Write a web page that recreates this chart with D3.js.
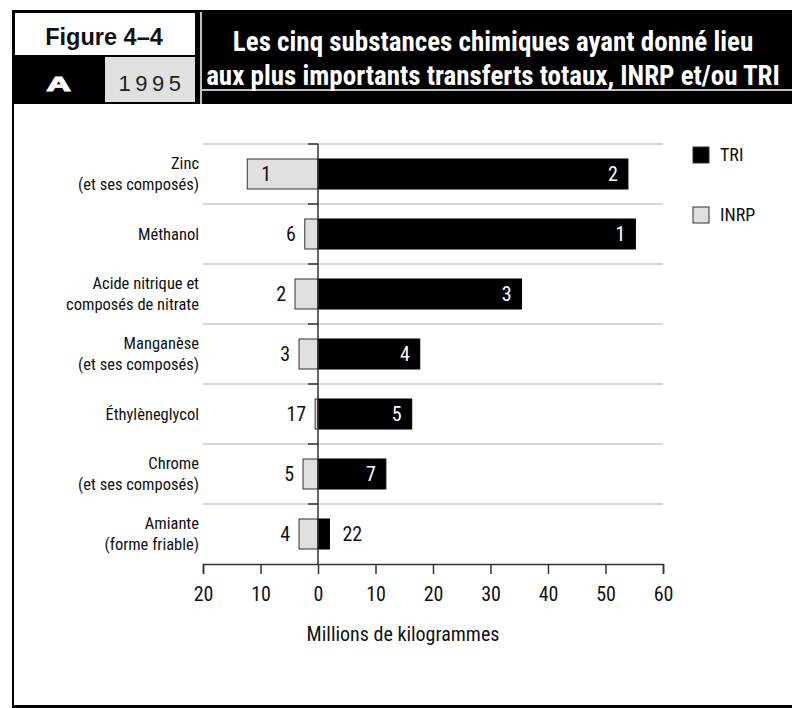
<!DOCTYPE html>
<html><head><meta charset="utf-8">
<script src="https://cdn.jsdelivr.net/npm/d3@7"></script>
<style>
html,body{margin:0;padding:0;background:#fff;}
svg{display:block;}
</style></head>
<body>
<svg id="chart" width="792" height="708"></svg>
<script>
const categories = [
  ["Zinc", "(et ses composés)"],
  ["Méthanol"],
  ["Acide nitrique et", "composés de nitrate"],
  ["Manganèse", "(et ses composés)"],
  ["Éthylèneglycol"],
  ["Chrome", "(et ses composés)"],
  ["Amiante", "(forme friable)"]
];
const triValues  = [53.9, 55.2, 35.4, 17.7, 16.3, 11.8, 2.0];
const inrpValues = [12.3, 2.3, 4.0, 3.3, 0.5, 2.6, 3.3];
const triRanks   = [2, 1, 3, 4, 5, 7, 22];
const inrpRanks  = [1, 6, 2, 3, 17, 5, 4];
const tickValues = [-20, -10, 0, 10, 20, 30, 40, 50, 60];
const seriesNames = ["TRI", "INRP"];

const COND = "'Liberation Sans Narrow','Roboto Condensed','Arial Narrow','DejaVu Sans Condensed',sans-serif";
const SANS = "'Liberation Sans',Arial,Helvetica,sans-serif";
const GREY = "#e0e0e0";

const svg = d3.select("#chart");

// ---- frame & header ----
svg.append("rect").attr("x",12).attr("y",10).attr("width",780).attr("height",94).attr("fill","#000");
svg.append("line").attr("x1",13).attr("x2",13).attr("y1",10).attr("y2",707).attr("stroke","#000").attr("stroke-width",2);
svg.append("line").attr("x1",12).attr("x2",792).attr("y1",706.5).attr("y2",706.5).attr("stroke","#000").attr("stroke-width",3);
svg.append("rect").attr("x",15).attr("y",13).attr("width",180).attr("height",42).attr("fill","#fff");
svg.append("rect").attr("x",105).attr("y",57).attr("width",90).attr("height",45).attr("fill",GREY);
svg.append("line").attr("x1",201).attr("x2",201).attr("y1",12).attr("y2",104).attr("stroke","#fff").attr("stroke-width",1.5);
svg.append("line").attr("x1",202).attr("x2",792).attr("y1",90).attr("y2",90).attr("stroke","#fff").attr("stroke-width",1.5);

svg.append("text").attr("x",104).attr("y",45).attr("text-anchor","middle")
  .attr("font-family",SANS).attr("font-weight","bold").attr("font-size",23.5).attr("fill","#111").text("Figure 4–4");
svg.append("text").attr("transform","translate(58.5,91) scale(1.6,1)").attr("text-anchor","middle")
  .attr("font-family",SANS).attr("font-weight","900").attr("font-size",21).attr("fill","#fff")
  .attr("stroke","#fff").attr("stroke-width",1.2).text("A");
svg.append("text").attr("x",152).attr("y",91).attr("text-anchor","middle")
  .attr("font-family",SANS).attr("font-size",22).attr("letter-spacing","4.5px").attr("fill","#222").text("1995");

const titleLines = ["Les cinq substances chimiques ayant donné lieu", "aux plus importants transferts totaux, INRP et/ou TRI"];
svg.append("text").attr("text-anchor","middle").attr("font-family",COND).attr("font-weight","bold")
  .attr("font-size",27).attr("fill","#fff")
  .selectAll("tspan").data(titleLines).join("tspan")
  .attr("x",493).attr("y",(d,i)=>51+i*34).text(d=>d);

// ---- scales ----
const x = d3.scaleLinear().domain([-20,60]).range([203,663]);
const y = d3.scaleBand().domain(d3.range(categories.length)).range([144,564]).paddingInner(0.5).paddingOuter(0.25);
const step = y.step();

// separators
svg.append("g").selectAll("line").data(d3.range(categories.length)).join("line")
  .attr("x1",x(-20)).attr("x2",x(60))
  .attr("y1",i=>y(i)-step*0.25).attr("y2",i=>y(i)-step*0.25)
  .attr("stroke","#c8c8c8").attr("stroke-width",1.5);

// small ticks on zero line
svg.append("g").selectAll("line").data(d3.range(categories.length)).join("line")
  .attr("x1",x(0)-10).attr("x2",x(0))
  .attr("y1",i=>y(i)-step*0.25).attr("y2",i=>y(i)-step*0.25)
  .attr("stroke","#333").attr("stroke-width",1.5);

// bars
const rows = categories.map((c,i)=>({i, c, tri:triValues[i], inrp:inrpValues[i], tr:triRanks[i], ir:inrpRanks[i]}));
svg.append("g").selectAll("rect").data(rows).join("rect")
  .attr("x",d=>x(-d.inrp)).attr("y",d=>y(d.i)).attr("width",d=>x(0)-x(-d.inrp)).attr("height",y.bandwidth())
  .attr("fill",GREY).attr("stroke","#333").attr("stroke-width",1);
svg.append("g").selectAll("rect").data(rows).join("rect")
  .attr("x",x(0)).attr("y",d=>y(d.i)).attr("width",d=>x(d.tri)-x(0)).attr("height",y.bandwidth())
  .attr("fill","#000").attr("stroke","#000").attr("stroke-width",1);

// zero line
svg.append("line").attr("x1",x(0)).attr("x2",x(0)).attr("y1",144).attr("y2",564).attr("stroke","#333").attr("stroke-width",1.5);

// value labels
const lbl = svg.append("g").attr("font-family",COND).attr("font-size",20);
rows.forEach(d=>{
  const cy = y(d.i)+y.bandwidth()/2;
  const tw = x(d.tri)-x(0);
  if (tw > 30) {
    lbl.append("text").attr("x",x(d.tri)-10).attr("y",cy).attr("dy","0.35em").attr("text-anchor","end").attr("fill","#fff").text(d.tr);
  } else {
    lbl.append("text").attr("x",x(d.tri)+13).attr("y",cy).attr("dy","0.35em").attr("text-anchor","start").attr("fill","#111").text(d.tr);
  }
  const iw = x(0)-x(-d.inrp);
  if (iw > 40) {
    lbl.append("text").attr("x",x(-d.inrp)+14).attr("y",cy).attr("dy","0.35em").attr("text-anchor","start").attr("fill","#111").text(d.ir);
  } else {
    lbl.append("text").attr("x",x(-d.inrp)-9).attr("y",cy).attr("dy","0.35em").attr("text-anchor","end").attr("fill","#111").text(d.ir);
  }
});

// category labels
const cat = svg.append("g").attr("font-family",COND).attr("font-size",16.5).attr("fill","#111").attr("text-anchor","end");
rows.forEach(d=>{
  const cy = y(d.i)+y.bandwidth()/2;
  const n = d.c.length;
  const t = cat.append("text");
  d.c.forEach((line,k)=>{
    t.append("tspan").attr("x",199).attr("y",cy + (k-(n-1)/2)*21).attr("dy","0.35em").text(line);
  });
});

// x axis
const axis = d3.axisBottom(x).tickValues(tickValues).tickFormat(v=>Math.abs(v)).tickSize(10).tickPadding(13);
const ax = svg.append("g").attr("transform","translate(0,564)").call(axis);
ax.select(".domain").attr("stroke","#333").attr("stroke-width",1.5);
ax.selectAll(".tick line").attr("stroke","#333").attr("stroke-width",1.5);
ax.selectAll(".tick text").attr("font-family",COND).attr("font-size",20).attr("fill","#111");

svg.append("text").attr("x",403).attr("y",641).attr("text-anchor","middle").attr("font-family",COND)
  .attr("font-size",20).attr("fill","#111").text("Millions de kilogrammes");

// legend
const leg = svg.append("g").attr("font-family",COND).attr("font-size",18).attr("fill","#111");
const legFill = ["#000", GREY];
seriesNames.forEach((s,k)=>{
  leg.append("rect").attr("x",693).attr("y",147+k*60).attr("width",16).attr("height",16)
    .attr("fill",legFill[k]).attr("stroke","#333").attr("stroke-width",1);
  leg.append("text").attr("x",720).attr("y",155+k*60).attr("dy","0.35em").text(s);
});
</script>
</body></html>
